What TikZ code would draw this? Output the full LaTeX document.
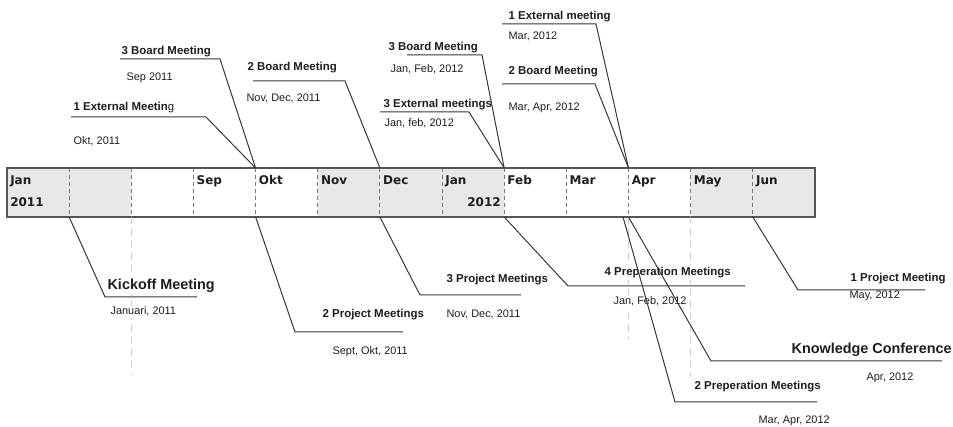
\documentclass[tikz,border=0pt]{standalone}
\usepackage{fontspec}
\setmainfont{Liberation Sans}
\newfontfamily\barfont{DejaVu Sans}
\usetikzlibrary{positioning}

\definecolor{cellgray}{RGB}{232,232,232}
\definecolor{inkgray}{RGB}{55,55,55}
\definecolor{txtgray}{RGB}{30,30,30}

\tikzset{
  callout/.style={color=inkgray, line width=0.75},
  barframe/.style={color={rgb, 255:red, 85; green, 85; blue, 85}, line width=1.2},
  divider/.style={color={rgb, 255:red, 120; green, 120; blue, 120}, line width=0.8, dash pattern=on 3pt off 2.2pt},
  ext/.style={color={rgb, 255:red, 205; green, 205; blue, 205}, line width=0.75, dash pattern=on 5pt off 4pt},
  ttl/.style={anchor=base west, inner sep=1pt, fill=white, text=txtgray, font=\bfseries\fontsize{8.6}{10}\selectfont},
  bigttl/.style={anchor=base west, inner sep=1pt, fill=white, text=txtgray, font=\bfseries\fontsize{10.8}{12}\selectfont},
  dte/.style={anchor=base west, inner sep=1pt, fill=white, text=txtgray, font=\fontsize{8.2}{10}\selectfont},
  mon/.style={anchor=base west, inner sep=0.75pt, text=txtgray, font=\barfont\bfseries\fontsize{9}{10}\selectfont},
}

\begin{document}
\begin{tikzpicture}[x=0.75pt,y=0.75pt,yscale=-1,xscale=1]
\path[use as bounding box] (0,0) rectangle (953,427);

%Shape: shaded months
\fill[cellgray] (7,168) rectangle (131.3,217);
\fill[cellgray] (317.75,168) rectangle (504.2,217);
\fill[cellgray] (690.65,168) rectangle (815,217);

%Straight Lines: month dividers
\foreach \i in {1,...,12} {
  \coordinate (t\i) at (7+62.15*\i,168);
  \coordinate (b\i) at (7+62.15*\i,217);
  \draw[divider] (t\i) -- (b\i);
}
%Shape: bar frame
\draw[barframe] (7,168) rectangle (815,217);

%Straight Lines: light guides below the bar
\coordinate (e2) at (131.3,375);
\coordinate (e10) at (628.5,340);
\coordinate (e11) at (690.65,377);
\draw[ext] (b2) -- (e2);
\draw[ext] (b10) -- (e10);
\draw[ext] (b11) -- (e11);

% Text Node: months
\foreach \m [count=\i from 0] in {Jan,{},{},Sep,Okt,Nov,Dec,Jan,Feb,Mar,Apr,May,Jun}
  \node[mon] (m\i) at (9+62.15*\i,185) {\m};
\node[mon] (y2011) at (9,207) {2011};
\node[mon, anchor=base east] (y2012) at (502,207) {2012};

% Text Node: above the bar
\node[ttl] (brdA) at (120,55) {3 Board Meeting};
\node[dte] (brdAd) at (125,81) {Sep 2011};
\node[ttl] (extA) at (72,111) {1 External Meetin{\mdseries g}};
\node[dte] (extAd) at (72,145) {Okt, 2011};
\node[ttl] (brdB) at (246,71) {2 Board Meeting};
\node[dte] (brdBd) at (245,102) {Nov, Dec, 2011};
\node[ttl] (brdC) at (387,51) {3 Board Meeting};
\node[dte] (brdCd) at (389,73) {Jan, Feb, 2012};
\node[ttl] (extB) at (382,108) {3 External meetings};
\node[dte] (extBd) at (383,127) {Jan, feb, 2012};
\node[ttl] (extC) at (507,20) {1 External meeting};
\node[dte] (extCd) at (507,40) {Mar, 2012};
\node[ttl] (brdD) at (507,75) {2 Board Meeting};
\node[dte] (brdDd) at (507,111) {Mar, Apr, 2012};

% Text Node: below the bar
\node[bigttl] (kick) at (106,290) {Kickoff Meeting};
\node[dte] (kickd) at (109,315) {Januari, 2011};
\node[ttl] (prjA) at (321,318) {2 Project Meetings};
\node[dte] (prjAd) at (331,355) {Sept, Okt, 2011};
\node[ttl] (prjB) at (445,283) {3 Project Meetings};
\node[dte] (prjBd) at (445,318) {Nov, Dec, 2011};
\node[ttl] (prpA) at (603,276) {4 Preperation Meetings};
\node[dte] (prpAd) at (612,305) {Jan, Feb, 2012};
\node[bigttl] (know) at (790,354) {Knowledge Conference};
\node[dte] (knowd) at (865,381) {Apr, 2012};
\node[ttl] (prpB) at (693,390) {2 Preperation Meetings};
\node[dte] (prpBd) at (757,424) {Mar, Apr, 2012};
\node[ttl] (prjC) at (849,282) {1 Project Meeting};
\node[dte] (prjCd) at (848,299) {May, 2012};

%Straight Lines: callouts above
\coordinate (brdA-k) at (220,59);  \coordinate (brdA-e) at (120,59);
\coordinate (extA-k) at (206,117); \coordinate (extA-e) at (71,117);
\coordinate (brdB-k) at (345,81);  \coordinate (brdB-e) at (253,81);
\coordinate (brdC-k) at (482,55);  \coordinate (brdC-e) at (407,55);
\coordinate (extB-k) at (469,112); \coordinate (extB-e) at (380,112);
\coordinate (extC-k) at (596,24);  \coordinate (extC-e) at (502,24);
\coordinate (brdD-k) at (595,84);  \coordinate (brdD-e) at (502,84);
\draw[callout] (t4) -- (brdA-k) -- (brdA-e);
\draw[callout] (t4) -- (extA-k) -- (extA-e);
\draw[callout] (t6) -- (brdB-k) -- (brdB-e);
\draw[callout] (t8) -- (brdC-k) -- (brdC-e);
\draw[callout] (t8) -- (extB-k) -- (extB-e);
\draw[callout] (t10) -- (extC-k) -- (extC-e);
\draw[callout] (t10) -- (brdD-k) -- (brdD-e);

%Straight Lines: callouts below
\coordinate (b10l) at (623,217);
\coordinate (kick-k) at (105,297); \coordinate (kick-e) at (197,297);
\coordinate (prjA-k) at (295,332); \coordinate (prjA-e) at (403,332);
\coordinate (prjB-k) at (420,295); \coordinate (prjB-e) at (521,295);
\coordinate (prpA-k) at (568,286); \coordinate (prpA-e) at (745,286);
\coordinate (know-k) at (711,361); \coordinate (know-e) at (942,361);
\coordinate (prpB-k) at (675,402); \coordinate (prpB-e) at (817,402);
\coordinate (prjC-k) at (798,290); \coordinate (prjC-e) at (925,290);
\draw[callout] (b1) -- (kick-k) -- (kick-e);
\draw[callout] (b4) -- (prjA-k) -- (prjA-e);
\draw[callout] (b6) -- (prjB-k) -- (prjB-e);
\draw[callout] (b8) -- (prpA-k) -- (prpA-e);
\draw[callout] (b10) -- (know-k) -- (know-e);
\draw[callout] (b10l) -- (prpB-k) -- (prpB-e);
\draw[callout] (b12) -- (prjC-k) -- (prjC-e);

\end{tikzpicture}
\end{document}
